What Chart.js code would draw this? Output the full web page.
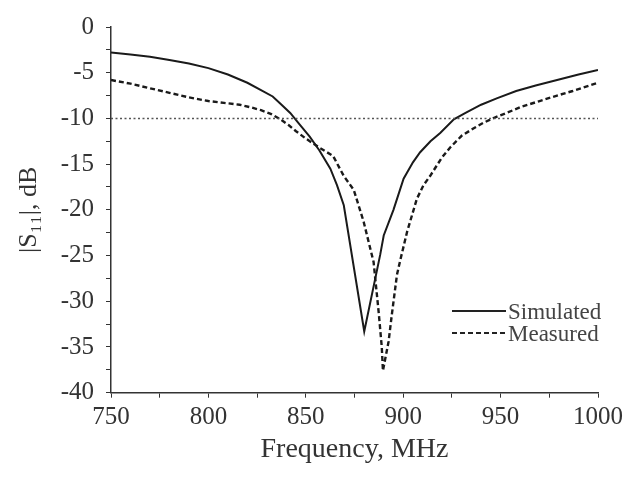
<!DOCTYPE html>
<html>
<head>
<meta charset="utf-8">
<script src="https://cdn.jsdelivr.net/npm/chart.js@4"></script>
<style>
  html, body { margin: 0; padding: 0; background: #fff; }
  #wrap { width: 628px; height: 482px; }
</style>
</head>
<body>
<div id="wrap"><canvas id="s11Chart" width="628" height="482"></canvas></div>
<script>
// ================================
// DATA
// ================================
const simFreq = [750, 760, 770, 780, 790, 800, 810, 820, 827, 833, 837, 842, 847, 852, 857, 862.6, 866, 869.5,
  880, 888.2, 890, 895, 900.2, 905, 908.7, 914, 919, 926, 932, 940, 948, 958, 968, 979, 990, 1000];
const simLoss = [-2.8, -3.0, -3.25, -3.6, -4.0, -4.5, -5.2, -6.1, -6.9, -7.6, -8.4, -9.4, -10.7, -12.0, -13.5, -15.5, -17.3, -19.5,
  -33.3, -24.9, -22.8, -20.0, -16.6, -14.8, -13.7, -12.5, -11.6, -10.1, -9.4, -8.5, -7.8, -7.0, -6.4, -5.8, -5.2, -4.7];

const measFreq = [750, 760, 770, 780, 790, 800, 808, 816, 822, 827, 832, 837, 841, 845, 850, 857, 864, 869.5, 874.6, 879.7,
  884.8, 887.5, 889, 889.6, 892.5, 894.2, 896.8, 898.5, 902, 904.5, 907, 910.4, 913.8, 919.8, 924, 930, 936, 941, 947, 953,
  961, 970, 979, 987, 1000];
const measLoss = [-5.8, -6.2, -6.7, -7.2, -7.7, -8.1, -8.3, -8.5, -8.8, -9.1, -9.5, -10.1, -10.7, -11.4, -12.2, -13.2, -14.1, -16.3, -17.8, -21.3,
  -25.7, -31.4, -35.0, -37.6, -34.4, -31.4, -27.1, -25.5, -22.4, -20.6, -18.8, -17.3, -16.3, -14.3, -13.2, -11.9, -11.1, -10.5, -9.9, -9.4,
  -8.7, -8.1, -7.5, -7.0, -6.1];

const refFreq = [750, 1000];
const refLoss = [-10, -10];

const seriesNames = ["Simulated", "Measured"];
const xLimits = [750, 1000];
const yLimits = [-40, 0];

const SERIF = "'Liberation Serif', 'Times New Roman', serif";

function toPoints(xs, ys) {
  return xs.map((x, i) => ({ x: x, y: ys[i] }));
}

// ================================
// LEGEND INSIDE PLOT (bottom right)
// ================================
const innerLegend = {
  id: "innerLegend",
  afterDatasetsDraw(chart) {
    const ctx = chart.ctx;
    const rows = [
      { name: seriesNames[0], dash: [], y: 311 },
      { name: seriesNames[1], dash: [5, 3], y: 333 }
    ];
    ctx.save();
    ctx.font = "23px " + SERIF;
    ctx.textBaseline = "middle";
    ctx.textAlign = "left";
    rows.forEach(r => {
      ctx.beginPath();
      ctx.setLineDash(r.dash);
      ctx.lineWidth = 2;
      ctx.strokeStyle = "#222";
      ctx.moveTo(452, r.y);
      ctx.lineTo(506, r.y);
      ctx.stroke();
      ctx.setLineDash([]);
      ctx.fillStyle = "#444";
      ctx.fillText(r.name, 508, r.y + 2);
    });
    ctx.restore();
  }
};

new Chart(document.getElementById("s11Chart"), {
  type: "line",
  data: {
    datasets: [
      {
        label: "-10 dB",
        data: toPoints(refFreq, refLoss),
        borderColor: "#555",
        borderWidth: 1.5,
        borderDash: [2, 2.5],
        pointRadius: 0,
        tension: 0
      },
      {
        label: seriesNames[0],
        data: toPoints(simFreq, simLoss),
        borderColor: "#1a1a1a",
        borderWidth: 2,
        pointRadius: 0,
        tension: 0
      },
      {
        label: seriesNames[1],
        data: toPoints(measFreq, measLoss),
        borderColor: "#1a1a1a",
        borderWidth: 2.4,
        borderDash: [5, 3],
        pointRadius: 0,
        tension: 0
      }
    ]
  },
  options: {
    responsive: false,
    animation: false,
    layout: { padding: { top: 23.5, right: 30, bottom: 0, left: 0 } },
    plugins: {
      legend: { display: false },
      tooltip: { enabled: false }
    },
    scales: {
      x: {
        type: "linear",
        min: xLimits[0],
        max: xLimits[1],
        afterFit: s => { s.height = 89.3; },
        border: { display: true, color: "#333", width: 1.5 },
        grid: { drawOnChartArea: false, drawTicks: true, tickLength: 5, color: "#333" },
        ticks: {
          stepSize: 25,
          autoSkip: false,
          maxRotation: 0,
          padding: 5,
          color: "#333",
          font: { family: SERIF, size: 25 },
          callback: v => (v % 50 === 0 ? String(v) : "")
        },
        title: {
          display: true,
          text: "Frequency, MHz",
          color: "#333",
          font: { family: SERIF, size: 28 },
          padding: { top: 0, bottom: 16 }
        }
      },
      y: {
        min: yLimits[0],
        max: yLimits[1],
        afterFit: s => { s.width = 111; },
        border: { display: true, color: "#333", width: 1.5 },
        grid: { drawOnChartArea: false, drawTicks: true, tickLength: 5, color: "#333" },
        ticks: {
          stepSize: 2.5,
          autoSkip: false,
          padding: 12,
          color: "#333",
          font: { family: SERIF, size: 25 },
          callback: v => (v % 5 === 0 ? String(v) : "")
        },
        title: {
          display: true,
          text: "|S\u2081\u2081|, dB",
          color: "#333",
          font: { family: SERIF, size: 26 },
          padding: { top: 14, bottom: 0 }
        }
      }
    }
  },
  plugins: [innerLegend]
});
</script>
</body>
</html>
